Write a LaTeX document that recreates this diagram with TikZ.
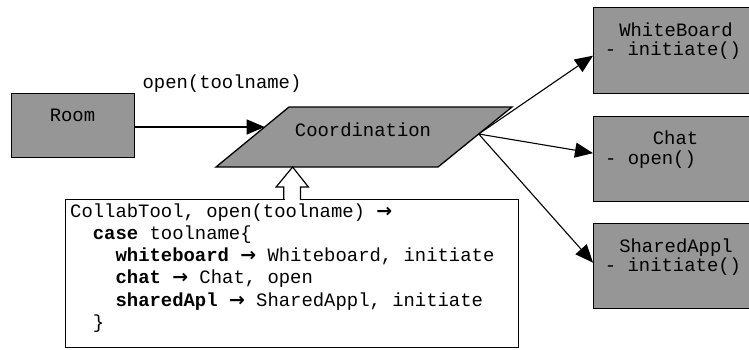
\documentclass[tikz,border=0pt]{standalone}
\usepackage{fontspec}
\setmonofont{Liberation Mono}
\newfontfamily\arrowfont{DejaVu Sans}
\usetikzlibrary{arrows.meta,calc}

\definecolor{boxgray}{RGB}{150,150,150}
% arrow used inside the mapping text
\newcommand\maparr{{\arrowfont\bfseries →}}

\tikzset{
  classbox/.style={draw=black, fill=boxgray, line width=1.3pt, rectangle,
    anchor=north west, inner sep=0pt},
  notebox/.style={draw=black, fill=white, line width=1.2pt, rectangle,
    anchor=north west, inner sep=0pt},
  lbl/.style={font=\ttfamily\fontsize{18.9}{22.3}\selectfont, inner sep=0pt, anchor=base},
  codeline/.style={lbl, anchor=base west},
  flow/.style={-{Triangle[length=18pt,width=15pt]}, line width=1.1pt},
  hollow/.style={draw=black, line width=1.2pt, line join=miter},
}

\begin{document}
\begin{tikzpicture}[x=1pt, y=-1pt]
\useasboundingbox (0,0) rectangle (749,349);

% ---- class boxes ----
\node[classbox, minimum width=123, minimum height=64] (room)   at (11,93)  {};
\node[classbox, minimum width=165, minimum height=86] (wb)     at (593,7)  {};
\node[classbox, minimum width=165, minimum height=85] (chat)   at (593,116) {};
\node[classbox, minimum width=165, minimum height=85] (shared) at (593,223) {};

\node[lbl] (roomtxt)  at (72.5,121) {Room};
\node[lbl] (wbtxt)    at (676,36)   {WhiteBoard};
\node[lbl] (wbop)     at (673,55.5) {- initiate()};
\node[lbl] (chattxt)  at (675.5,144) {Chat};
\node[lbl, anchor=base west] (chatop) at (605,164) {- open()};
\node[lbl] (shtxt)    at (676,252)  {SharedAppl};
\node[lbl] (shop)     at (673,271.5) {- initiate()};

% ---- coordination parallelogram ----
\coordinate (ptl) at (289,107);
\coordinate (ptr) at (512,107);
\coordinate (pbr) at (438,167);
\coordinate (pbl) at (216,167);
\filldraw[fill=boxgray, draw=black, line width=1.3pt, line join=miter]
  (ptl) -- (ptr) -- (pbr) -- (pbl) -- cycle;
\node[lbl] (coord) at (363,136) {Coordination};

% ---- message from Room ----
\coordinate (inl)  at ($(pbl)!0.667!(ptl)$);
\coordinate (outp) at ($(pbr)!0.55!(ptr)$);
\draw[flow] ([yshift=-2pt]room.east) -- (room.east |- inl) -- (inl);
\node[lbl] (msg) at (222,88) {open(toolname)};

% ---- dispatch to the tools ----
\draw[flow] (outp) -- ([yshift=-5pt]wb.west);
\draw[flow] (outp) -- ([yshift=6pt]chat.west);
\draw[flow] (outp) -- ([yshift=3.5pt]shared.west);

% ---- mapping note ----
\node[notebox, minimum width=453, minimum height=148] (note) at (65,199) {};
\node[codeline] (l1) at (70,217)     {CollabTool, open(toolname) \maparr};
\node[codeline] (l2) at (92.7,239.3) {\textbf{case} toolname\{};
\node[codeline] (l3) at (115.4,261.6) {\textbf{whiteboard} \maparr{} Whiteboard, initiate};
\node[codeline] (l4) at (115.4,283.9) {\textbf{chat} \maparr{} Chat, open};
\node[codeline] (l5) at (115.4,306.2) {\textbf{sharedApl} \maparr{} SharedAppl, initiate};
\node[codeline] (l6) at (92.7,328.5) {\}};

% ---- hollow arrow from note to coordination ----
\coordinate (tip) at ($(note.north)+(0.5,-32)$);
\fill[white] ($(note.north)+(-7.6,-1)$) rectangle ($(note.north)+(7.6,1.5)$);
\draw[hollow] ($(note.north)+(-8.3,0.6)$) -- ++(0,-12.6) -- ++(-7.7,0) -- (tip)
  -- ($(note.north)+(16.3,-12)$) -- ++(-8,0) -- ++(0,12.6);
\end{tikzpicture}
\end{document}
